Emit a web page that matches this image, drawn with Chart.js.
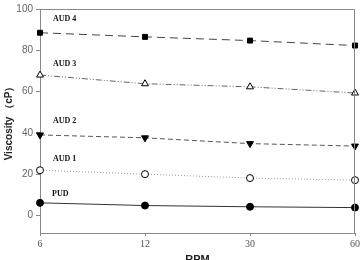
<!DOCTYPE html>
<html>
<head>
<meta charset="utf-8">
<script src="https://cdn.jsdelivr.net/npm/chart.js@4"></script>
<style>
  html, body { margin: 0; padding: 0; background: #fff; }
  #wrap { width: 362px; height: 260px; }
</style>
</head>
<body>
<div id="wrap"><canvas id="chart"></canvas></div>
<script>
// rpm categories and viscosity readings (cP)
var rpm = ['6', '12', '30', '60'];
var aud4 = [88.5, 86.5, 84.7, 82.3];
var aud3 = [68, 63.8, 62.3, 59.3];
var aud2 = [39, 37.6, 34.8, 33.6];
var aud1 = [21.9, 20, 18.1, 17.1];
var pud = [6.1, 4.8, 4.2, 3.8];
var yTicks = [0, 20, 40, 60, 80, 100];
var seriesNames = ['AUD 4', 'AUD 3', 'AUD 2', 'AUD 1', 'PUD'];
var labelLevels = [95, 73.5, 46, 27.5, 10.5];

function makeSet(name, data, line, dash, style, fill, rot, r) {
  return {
    label: name,
    data: data,
    borderColor: line,
    borderWidth: 1,
    borderDash: dash,
    pointStyle: style,
    pointRotation: rot || 0,
    pointRadius: r,
    pointBackgroundColor: fill,
    pointBorderColor: '#000',
    pointBorderWidth: 1,
    clip: false,
    tension: 0
  };
}

// text tags next to each curve, plus frame round the plot
var tagsPlugin = {
  id: 'tags',
  afterDatasetsDraw: function (chart) {
    var ctx = chart.ctx;
    var a = chart.chartArea;
    var x = chart.scales.x, y = chart.scales.y;
    ctx.save();
    ctx.strokeStyle = '#888';
    ctx.lineWidth = 1;
    ctx.beginPath();
    ctx.moveTo(a.left, a.top + 0.5);
    ctx.lineTo(a.right - 0.5, a.top + 0.5);
    ctx.lineTo(a.right - 0.5, a.bottom);
    ctx.stroke();
    ctx.fillStyle = '#111';
    ctx.font = 'bold 8px "Liberation Serif", serif';
    ctx.textBaseline = 'middle';
    seriesNames.forEach(function (n, i) {
      var px = x.getPixelForValue(0) + (n === 'PUD' ? 12 : 13);
      ctx.fillText(n, px, y.getPixelForValue(labelLevels[i]));
    });
    ctx.restore();
  }
};

new Chart(document.getElementById('chart'), {
  type: 'line',
  data: {
    labels: rpm,
    datasets: [
      makeSet('AUD 4', aud4, '#444', [8, 5], 'rect', '#000', 0, 3.5),
      makeSet('AUD 3', aud3, '#666', [6, 2, 1, 2, 1, 2], 'triangle', '#fff', 0, 4),
      makeSet('AUD 2', aud2, '#555', [5, 3], 'triangle', '#000', 180, 4),
      makeSet('AUD 1', aud1, '#999', [1, 2], 'circle', '#fff', 0, 3.5),
      makeSet('PUD', pud, '#333', [], 'circle', '#000', 0, 3.5)
    ]
  },
  options: {
    responsive: true,
    maintainAspectRatio: false,
    animation: false,
    events: [],
    layout: { padding: { top: 4, right: 5, left: 0, bottom: 0 } },
    plugins: {
      legend: { display: false },
      tooltip: { enabled: false }
    },
    scales: {
      x: {
        offset: false,
        afterFit: function (s) { s.height = 27; },
        grid: { drawOnChartArea: false, tickLength: 3, color: '#888' },
        border: { color: '#888' },
        ticks: {
          color: '#555',
          padding: 2,
          maxRotation: 0,
          font: { family: '"Liberation Serif", serif', size: 10 }
        },
        title: {
          display: true,
          text: 'RPM',
          color: '#222',
          font: { family: '"Liberation Sans", Arial, sans-serif', size: 11, weight: 'bold' },
          padding: { top: 0, bottom: -7 }
        }
      },
      y: {
        min: -8.5,
        max: 100,
        afterFit: function (s) { s.width = 40; },
        afterBuildTicks: function (s) {
          s.ticks = yTicks.map(function (v) { return { value: v }; });
        },
        grid: { drawOnChartArea: false, tickLength: 4, color: '#888' },
        border: { color: '#888' },
        ticks: {
          color: '#666',
          padding: 3,
          font: { family: '"Liberation Sans", Arial, sans-serif', size: 10 }
        },
        title: {
          display: true,
          text: 'Viscosity （cP）',
          color: '#222',
          font: { family: '"Liberation Sans", Arial, sans-serif', size: 10, weight: 'bold' },
          padding: { top: 3, bottom: 0 }
        }
      }
    }
  },
  plugins: [tagsPlugin]
});
</script>
</body>
</html>
